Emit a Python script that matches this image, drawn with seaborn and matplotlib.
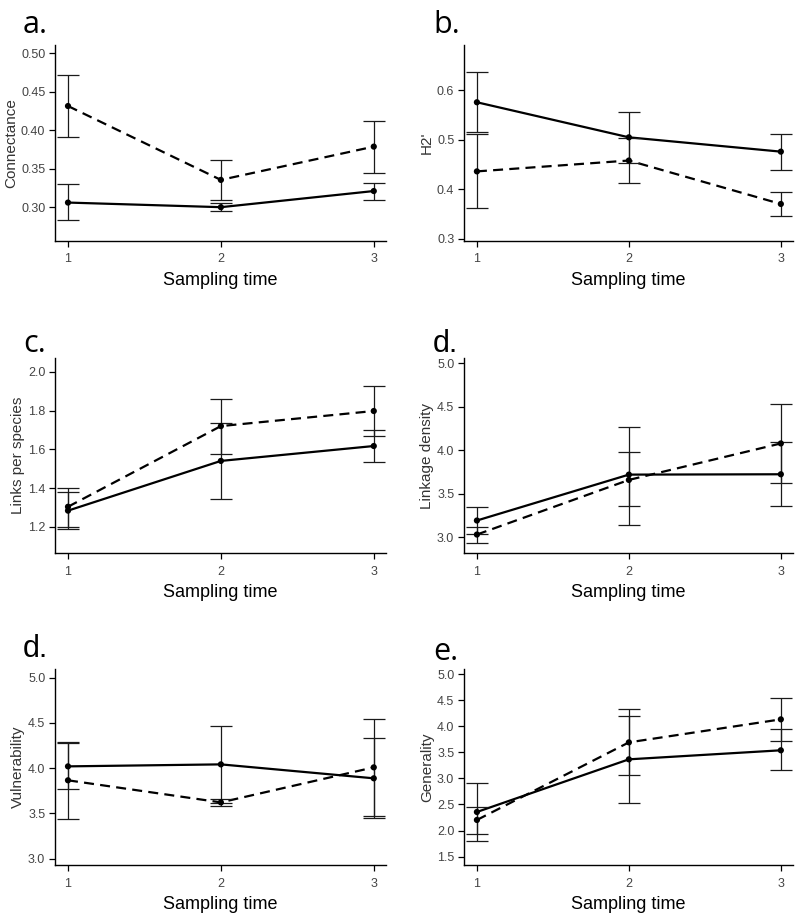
import numpy as np
import pandas as pd
import seaborn as sns
import matplotlib.pyplot as plt


TIMES = [1, 2, 3]

# panel letter, y label, y limits, y ticks, tick format
PANELS = [
    ("a.", "Connectance", (0.256, 0.511), [0.30, 0.35, 0.40, 0.45, 0.50], "{:.2f}"),
    ("b.", "H2'", (0.295, 0.692), [0.3, 0.4, 0.5, 0.6], "{:.1f}"),
    ("c.", "Links per species", (1.064, 2.072), [1.2, 1.4, 1.6, 1.8, 2.0], "{:.1f}"),
    ("d.", "Linkage density", (2.819, 5.058), [3.0, 3.5, 4.0, 4.5, 5.0], "{:.1f}"),
    ("d.", "Vulnerability", (2.93, 5.096), [3.0, 3.5, 4.0, 4.5, 5.0], "{:.1f}"),
    ("e.", "Generality", (1.34, 5.096), [1.5, 2.0, 2.5, 3.0, 3.5, 4.0, 4.5, 5.0], "{:.1f}"),
]

# solid line group: mean, lower, upper
solid_mean = [
    [0.306, 0.300, 0.321],
    [0.576, 0.505, 0.476],
    [1.283, 1.540, 1.617],
    [3.192, 3.719, 3.723],
    [4.020, 4.042, 3.888],
    [2.356, 3.365, 3.538],
]
solid_low = [
    [0.283, 0.295, 0.3095],
    [0.516, 0.453, 0.4395],
    [1.190, 1.345, 1.532],
    [3.034, 3.146, 3.354],
    [3.766, 3.610, 3.445],
    [1.800, 2.535, 3.155],
]
solid_high = [
    [0.330, 0.306, 0.332],
    [0.637, 0.557, 0.5116],
    [1.381, 1.734, 1.702],
    [3.350, 4.262, 4.090],
    [4.278, 4.470, 4.330],
    [2.912, 4.195, 3.940],
]

# dashed line group: mean, lower, upper
dashed_mean = [
    [0.4316, 0.3355, 0.3788],
    [0.436, 0.458, 0.370],
    [1.303, 1.720, 1.798],
    [3.031, 3.658, 4.077],
    [3.866, 3.622, 4.009],
    [2.203, 3.690, 4.131],
]
dashed_low = [
    [0.3918, 0.3095, 0.345],
    [0.361, 0.413, 0.3462],
    [1.200, 1.576, 1.669],
    [2.934, 3.354, 3.619],
    [3.435, 3.580, 3.471],
    [1.935, 3.059, 3.710],
]
dashed_high = [
    [0.4723, 0.362, 0.412],
    [0.512, 0.503, 0.3945],
    [1.398, 1.862, 1.926],
    [3.123, 3.973, 4.531],
    [4.290, 3.663, 4.547],
    [2.460, 4.336, 4.540],
]

W, H = 799, 921

# axes boxes in pixels: left, top, right, bottom
BOXES = [
    (55, 45, 386, 241), (464, 45, 793, 241),
    (55, 358, 386, 553), (464, 358, 793, 553),
    (55, 669, 386, 865), (464, 669, 793, 865),
]
LETTER_POS = [
    (23, 33), (433, 33),
    (23, 352), (433, 352),
    (23, 657), (433, 660),
]

TICK_COLOR = "#444444"


def build_frame(i):
    rows = []
    for group, means in (("solid", solid_mean[i]), ("dashed", dashed_mean[i])):
        for t, m in zip(TIMES, means):
            rows.append({"time": t, "value": m, "group": group})
    return pd.DataFrame(rows)


def main():

    sns.set_theme(style="ticks")
    plt.rcParams["font.family"] = ["Liberation Sans", "DejaVu Sans"]

    fig = plt.figure(figsize=(W / 100, H / 100), dpi=100)

    for i, (letter, ylabel, ylim, yticks, fmt) in enumerate(PANELS):

        l, t, r, b = BOXES[i]
        ax = fig.add_axes([l / W, 1 - b / H, (r - l) / W, (b - t) / H])

        df = build_frame(i)

        sns.lineplot(
            data=df, x="time", y="value",
            style="group",
            dashes={"solid": "", "dashed": (4.5, 2.8)},
            style_order=["solid", "dashed"],
            color="black", linewidth=1.6,
            errorbar=None, legend=False, ax=ax
        )

        for means, low, high in (
            (solid_mean[i], solid_low[i], solid_high[i]),
            (dashed_mean[i], dashed_low[i], dashed_high[i]),
        ):
            means = np.array(means)
            err = [means - np.array(low), np.array(high) - means]
            ax.errorbar(
                TIMES, means, yerr=err, fmt="none",
                ecolor="#1a1a1a", elinewidth=0.9,
                capsize=8, capthick=0.9
            )

        sns.scatterplot(
            data=df, x="time", y="value",
            color="black", s=20, edgecolor="none",
            legend=False, ax=ax, zorder=5
        )

        ax.set_xlim(0.915, 3.08)
        ax.set_ylim(*ylim)
        ax.set_xticks(TIMES)
        ax.set_xticklabels([str(x) for x in TIMES])
        ax.set_yticks(yticks)
        ax.set_yticklabels([fmt.format(v) for v in yticks])

        ax.tick_params(
            axis="both", length=4, width=0.9,
            labelsize=9, labelcolor=TICK_COLOR, color="black"
        )
        ax.tick_params(axis="x", pad=5)
        ax.tick_params(axis="y", pad=3)

        for side in ("left", "bottom"):
            ax.spines[side].set_linewidth(1.0)
            ax.spines[side].set_color("black")
        sns.despine(ax=ax)

        ax.set_xlabel("Sampling time", fontsize=13, color="black", labelpad=5)
        ax.set_ylabel(ylabel, fontsize=11, color="#333333", labelpad=2)

        lx, ly = LETTER_POS[i]
        family = ["Liberation Sans"] if letter == "d." else ["Open Sans", "DejaVu Sans"]
        fig.text(
            lx / W, 1 - ly / H, letter,
            fontsize=22, family=family, color="black",
            ha="left", va="baseline"
        )

    fig.savefig("out.png", dpi=100)
    plt.close(fig)


if __name__ == "__main__":
    main()
